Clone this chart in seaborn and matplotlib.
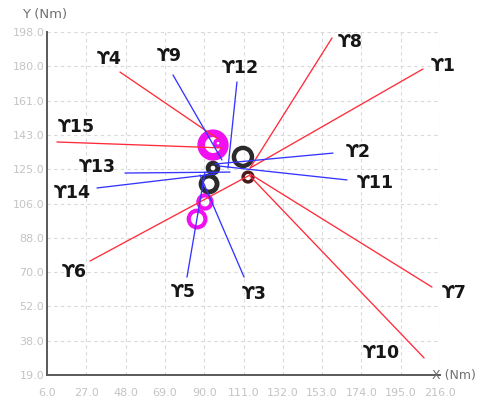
import numpy as np
import pandas as pd
import matplotlib
matplotlib.use("Agg")
import matplotlib.pyplot as plt
import seaborn as sns

# ---- data -------------------------------------------------------------
names = ["ϒ1", "ϒ2", "ϒ3", "ϒ4", "ϒ5", "ϒ6", "ϒ7", "ϒ8",
         "ϒ9", "ϒ10", "ϒ11", "ϒ12", "ϒ13", "ϒ14", "ϒ15"]
kinds = ["red", "blue", "blue", "red", "blue", "red", "red", "red",
         "blue", "red", "blue", "blue", "blue", "blue", "red"]

# line origin (near the operating point) and outer end, in Nm
start_x = [114.5, 95.8, 87.8, 97.4, 90.4, 114.5, 114.5, 114.5,
           99.5, 114.5, 97.4, 102.7, 103.8, 95.8, 99.5]
start_y = [127.0, 129.1, 123.4, 142.2, 124.9, 123.4, 123.9, 127.0,
           131.2, 122.8, 128.1, 127.0, 124.9, 123.9, 137.5]
end_x = [206.9, 158.8, 111.3, 45.0, 80.8, 29.0, 211.7, 158.3,
         73.3, 207.5, 166.3, 107.5, 47.7, 32.7, 11.3]
end_y = [178.7, 134.8, 70.1, 177.1, 70.1, 78.5, 64.9, 194.9,
         175.6, 27.9, 120.8, 171.9, 124.4, 116.6, 140.6]

# label anchors
label_x = [217.6, 172.2, 116.6, 39.1, 78.7, 20.4, 223.5, 167.9,
           71.2, 184.5, 181.3, 109.1, 32.7, 19.4, 21.5]
label_y = [180.3, 135.4, 61.3, 183.9, 62.3, 72.7, 61.8, 192.8,
           185.5, 30.5, 119.2, 179.2, 127.5, 114.0, 148.4]

# ring markers (operating points)
ring_x = [94.7, 97.4, 90.4, 86.2, 110.7, 113.4, 94.7, 92.6]
ring_y = [139.0, 140.0, 109.3, 100.4, 132.8, 122.3, 127.0, 118.7]
ring_group = ["m", "m", "m", "m", "k", "r", "k", "k"]
ring_size = [17.0, 4.5, 9.5, 12.0, 13.0, 7.0, 7.0, 11.5]   # diameter, pt
ring_width = [5.5, 2.5, 3.0, 3.0, 3.2, 2.5, 3.5, 3.5]      # edge width, pt

x_ticks = [6.0, 27.0, 48.0, 69.0, 90.0, 111.0, 132.0, 153.0, 174.0, 195.0, 216.0]
y_tick_labels = ["19.0", "38.0", "52.0", "70.0", "88.0", "106.0",
                 "125.0", "143.0", "161.0", "180.0", "198.0"]

# ---- figure -----------------------------------------------------------
sns.set_style("white")
plt.rcParams["font.family"] = ["DejaVu Sans"]

fig = plt.figure(figsize=(4.81, 4.05), dpi=100)
ax = fig.add_axes([47 / 481, 30 / 405, 393 / 481, 343 / 405])

palette_lines = {"red": "#ff2b3a", "blue": "#3535ff"}
ring_colors = {"m": "#f010f0", "k": "#2b2b2b", "r": "#4a1c1c"}

# rings first, lines drawn over them
rings = pd.DataFrame({"x": ring_x, "y": ring_y, "g": ring_group,
                      "d": ring_size, "w": ring_width})
for _, r in rings.iterrows():
    sns.scatterplot(x=[r.x], y=[r.y], ax=ax, s=r.d ** 2, marker="o",
                    facecolors="none", edgecolor=ring_colors[r.g],
                    linewidth=r.w, zorder=3, legend=False)

segs = pd.DataFrame({
    "name": np.repeat(names, 2),
    "kind": np.repeat(kinds, 2),
    "x": np.ravel(np.column_stack([start_x, end_x])),
    "y": np.ravel(np.column_stack([start_y, end_y])),
})
sns.lineplot(data=segs, x="x", y="y", hue="kind", units="name",
             estimator=None, sort=False, palette=palette_lines,
             linewidth=0.95, ax=ax, legend=False, zorder=4)

for n, lx, ly in zip(names, label_x, label_y):
    ax.text(lx, ly, n, ha="center", va="center", fontsize=12.5,
            fontweight="bold", color="#161616", zorder=5)

# ---- axes styling -----------------------------------------------------
ax.set_xlim(6, 216)
ax.set_ylim(19, 198)
ax.set_xticks(x_ticks)
ax.set_xticklabels([f"{v:.1f}" for v in x_ticks])
ax.set_yticks(np.linspace(19, 198, 11))
ax.set_yticklabels(y_tick_labels)
ax.tick_params(axis="both", length=0, labelsize=8, labelcolor="#c4c4c4")
ax.tick_params(axis="x", pad=9)
ax.tick_params(axis="y", pad=2)
ax.grid(True, color="#d9d9d9", linestyle=(0, (3, 3)), linewidth=0.8)
ax.set_axisbelow(True)
ax.set_xlabel("")
ax.set_ylabel("")

for side in ("top", "right"):
    ax.spines[side].set_visible(False)
for side in ("left", "bottom"):
    ax.spines[side].set_color("#5a5a5a")
    ax.spines[side].set_linewidth(1.4)

ax.text(-0.063, 1.05, "Y (Nm)", transform=ax.transAxes, ha="left",
        va="center", fontsize=9.5, color="#707070")
ax.text(0.98, 0.0, "X (Nm)", transform=ax.transAxes, ha="left",
        va="center", fontsize=9, color="#707070", clip_on=False)

fig.savefig("out.png", dpi=100, facecolor="white")
